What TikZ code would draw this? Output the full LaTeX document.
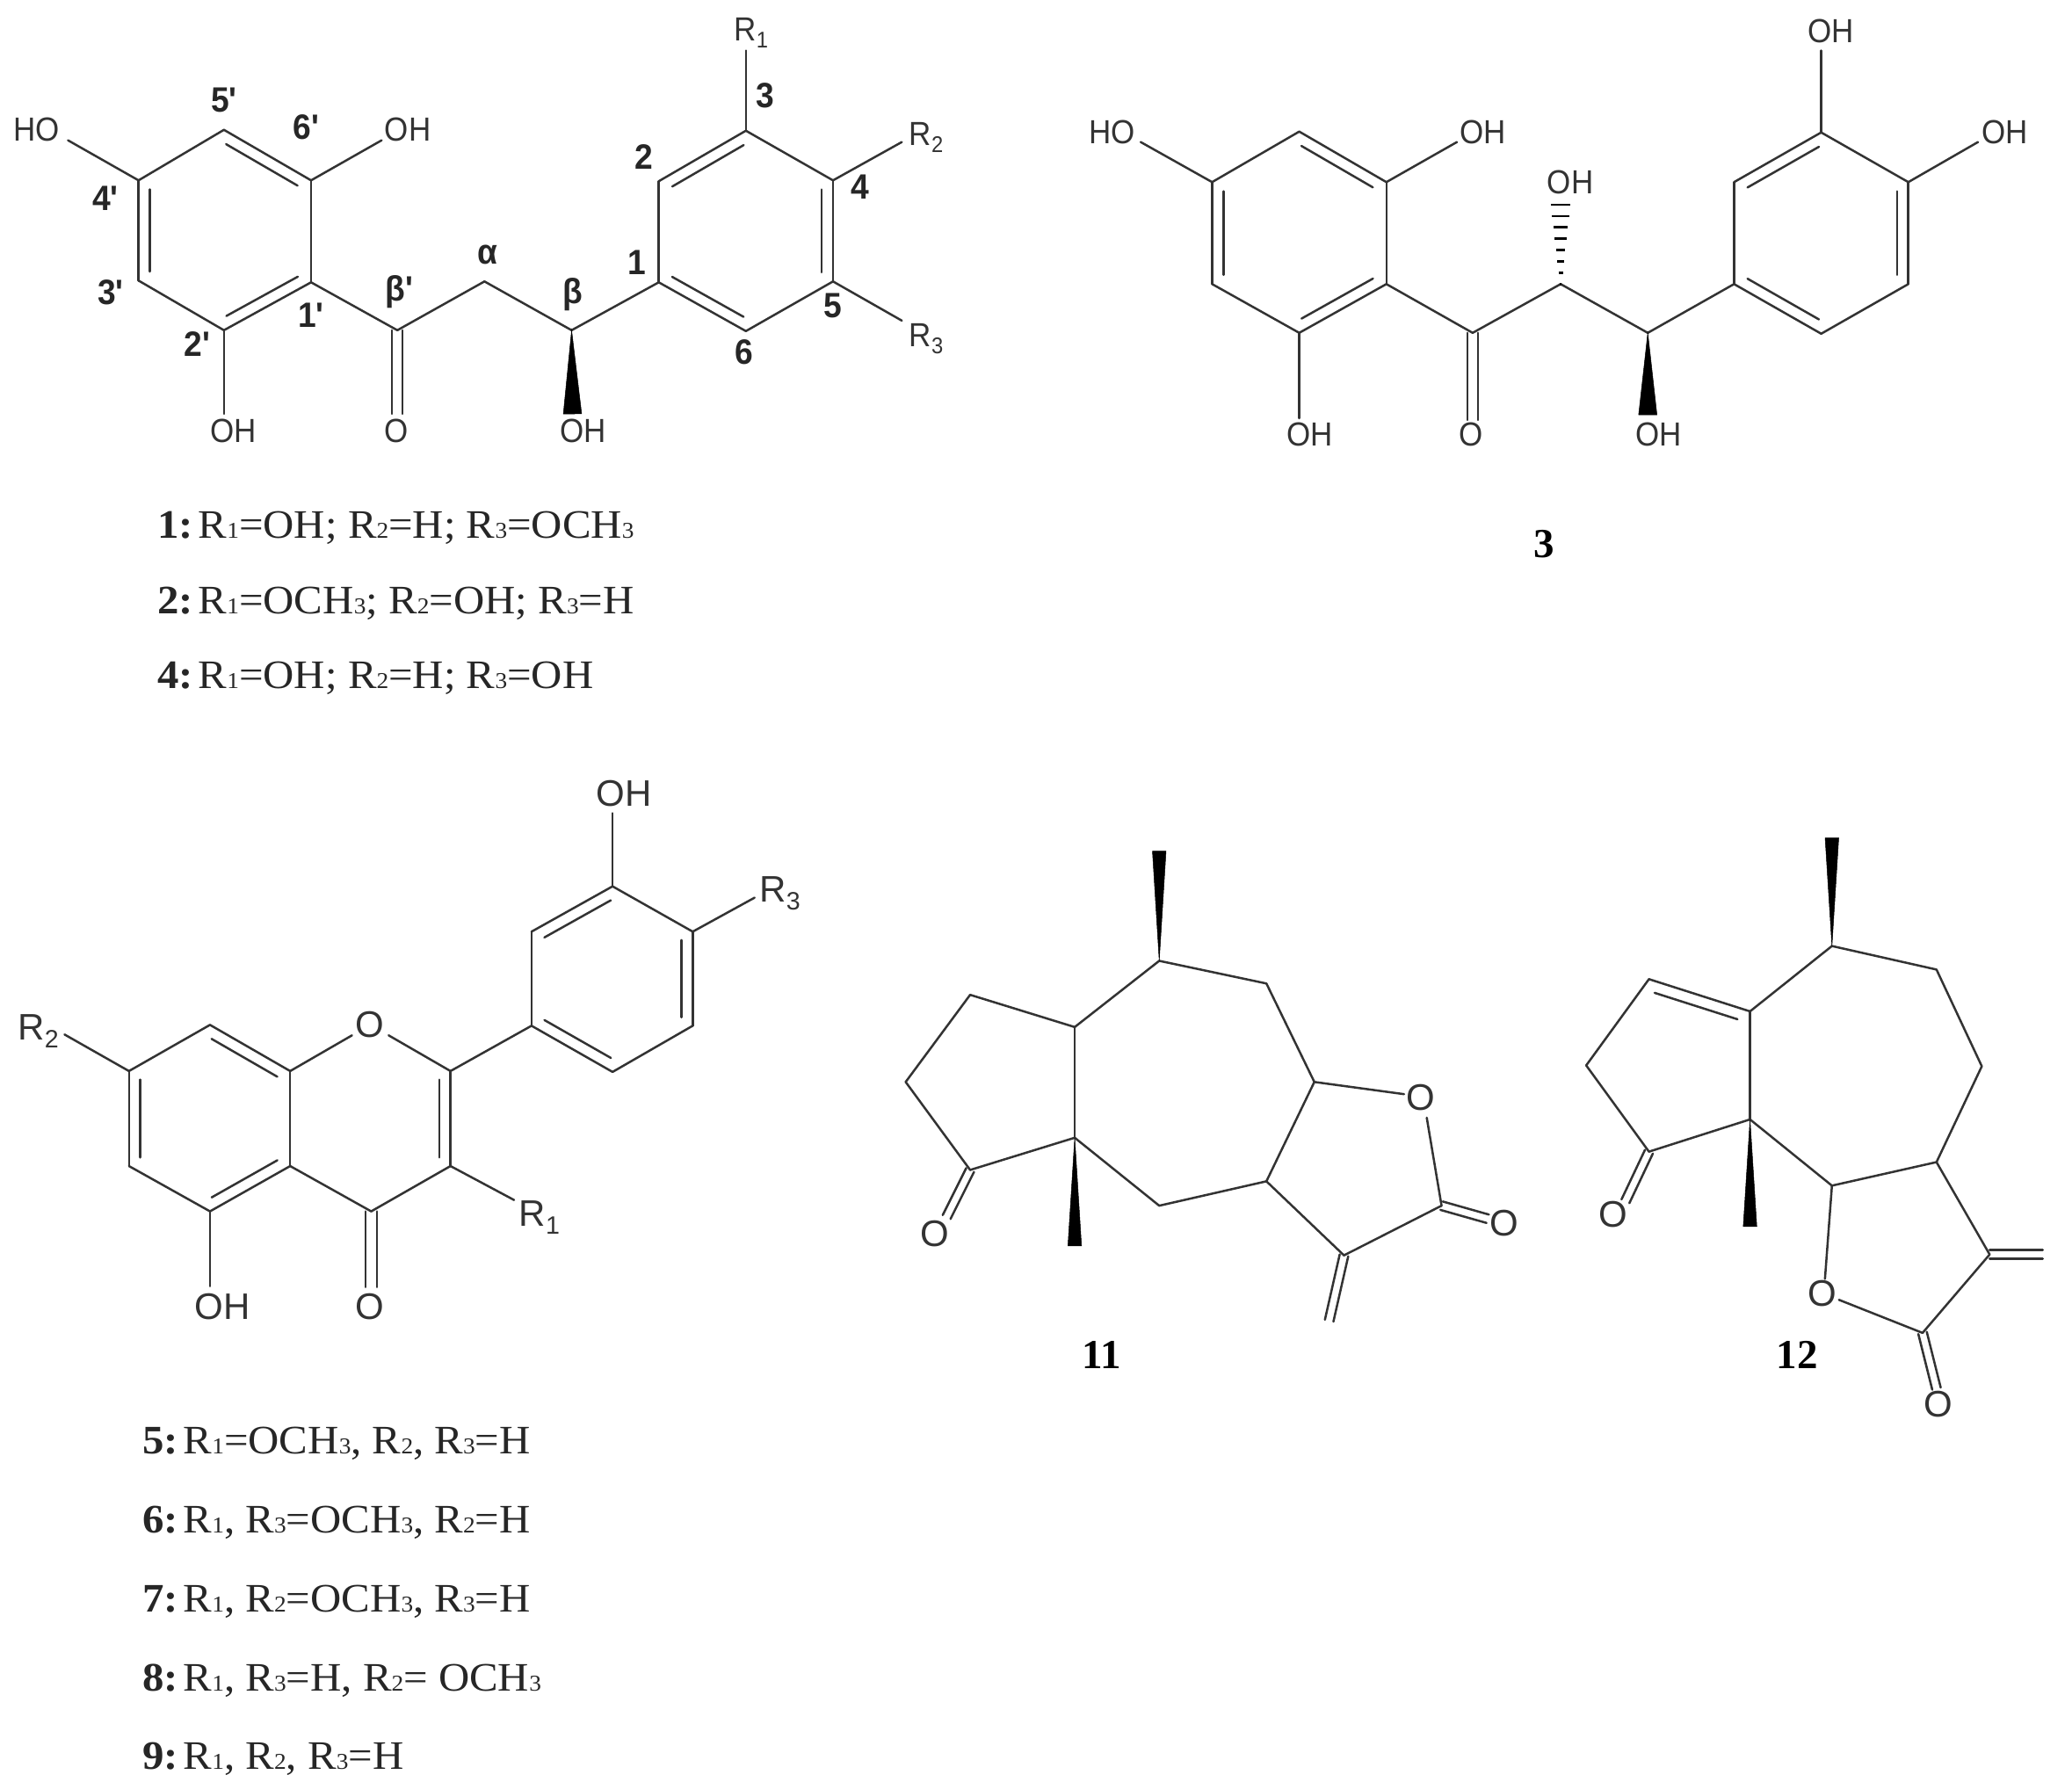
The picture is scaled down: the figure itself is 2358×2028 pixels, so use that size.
\documentclass[tikz,border=0pt]{standalone}
\usepackage{fontspec}
\usepackage{graphicx}
\usetikzlibrary{calc}
\newfontfamily\lblf[FakeStretch=.92]{Liberation Sans}
\newfontfamily\lbgf{Liberation Sans}
\newfontfamily\numf[FakeStretch=.93]{Liberation Sans}
\newfontfamily\listf[FakeStretch=1.062]{Liberation Serif}
\newfontfamily\bigf{Liberation Serif}
\definecolor{ink}{gray}{0.2}
\newcommand\Rsub[1]{\raisebox{-.22em}{\scalebox{.68}{#1}}}
\newcommand\Rl[1]{R\Rsub{#1}}
\newcommand\Lsub[1]{\raisebox{-.02em}{\scalebox{.56}{#1}}}
\newcommand\Rr[1]{R\Lsub{#1}}
\newcommand\Osub{\Lsub{3}}
\newcommand\tag[1]{\textbf{#1:}\hspace{6pt}}
\tikzset{
  bond/.style={draw=ink,line width=2.5pt,line cap=round,line join=round},
  wedgebond/.style={fill=black,draw=black,line width=.5pt},
  atomlbl/.style={inner sep=0pt,text=ink,font=\lblf\fontsize{38}{38}\selectfont},
  atombig/.style={inner sep=0pt,text=ink,font=\lbgf\fontsize{42}{42}\selectfont},
  numlbl/.style={inner sep=0pt,text=black!85,font=\numf\bfseries\fontsize{40}{40}\selectfont},
  listlbl/.style={inner sep=0pt,anchor=base west,text=black!85,font=\listf\fontsize{46}{46}\selectfont},
  cmpd/.style={inner sep=0pt,text=black,font=\bigf\bfseries\fontsize{47}{47}\selectfont},
  zoomfix/.style args={#1/#2}{shift={(#1,#2)},scale=.9917,shift={(-#1,-#2)}}
}
\newcommand\atoms[1]{\foreach \n/\x/\y in {#1}{\coordinate (\n) at (\x,\y);}}
\newcommand\bonds[1]{\foreach \a/\b in {#1}{\draw[bond] (\a) -- (\b);}}
\newcommand\inner[1]{\foreach \a/\b in {#1}{\draw[bond] ($(\a)!.09!(\b)!13pt!-90:(\b)$) -- ($(\b)!.09!(\a)!13pt!90:(\a)$);}}
\newcommand\twin[2][5pt]{\foreach \a/\b in {#2}{\draw[bond] ($(\a)!#1!90:(\b)$) -- ($(\b)!#1!-90:(\a)$);\draw[bond] ($(\a)!#1!-90:(\b)$) -- ($(\b)!#1!90:(\a)$);}}
\newcommand\wedgeb[3]{\fill[wedgebond] (#1) -- ($(#2)!#3!90:(#1)$) -- ($(#2)!#3!-90:(#1)$) -- cycle;}
\begin{document}
\begin{tikzpicture}[x=1pt,y=-1pt]
\fill[white] (0,0) rectangle (2358,2028);
\useasboundingbox (0,0) rectangle (2358,2028);

% ---------- structure 1,2,4
\begin{scope}[zoomfix=0/0]
\atoms{A5/257/149,A6/357/207,A1/357/324,A2/257/379,A3/159/322,A4/159/207,
 ACO/456/379,Aa/556/323,Ab/656/379,
 B1/756/324,B2/756/208,B3/856/150,B4/956/207,B5/956/323,B6/856/380,
 AOe/456/475,AOHe/257/475,AWe/657/475,
 BR1/856/58,BR2/1035/163,BR3/1035/368,AHOe/78/161,A6e/438/161}
\bonds{A5/A6,A6/A1,A1/A2,A2/A3,A3/A4,A4/A5,A1/ACO,ACO/Aa,Aa/Ab,Ab/B1,
 B1/B2,B2/B3,B3/B4,B4/B5,B5/B6,B6/B1,A2/AOHe,A4/AHOe,A6/A6e,B3/BR1,B4/BR2,B5/BR3}
\inner{A5/A6,A1/A2,A3/A4,B4/B5,B6/B1,B2/B3}
\twin[6pt]{ACO/AOe}
\wedgeb{Ab}{AWe}{10.5pt}
\node[atomlbl] (tHO) at (42,149) {HO};
\node[atomlbl] (tOH6) at (468,149) {OH};
\node[atomlbl] (tOH2) at (268,495) {OH};
\node[atomlbl] (tO) at (455,495) {O};
\node[atomlbl] (tOHb) at (669,495) {OH};
\node[atomlbl] (tR1) at (862,38) {\Rl{1}};
\node[atomlbl] (tR2) at (1063,158) {\Rl{2}};
\node[atomlbl] (tR3) at (1063,389) {\Rl{3}};
\foreach \nm/\x/\y/\t in {n5p/257/115/5',n6p/351/146/6',n4p/121/228/4',n3p/127/336/3',n2p/226/395/2',n1p/357/362/1',
  nbp/458/335/β',na/560/292/α,nb/657/338/β,n1/731/301/1,n2/739/180/2,n3/878/110/3,n4/987/215/4,n5/956/351/5,n6/854/404/6}
  {\node[numlbl] (\nm) at (\x,\y) {\t};}
\end{scope}

\node[listlbl] (l1) at (179,612) {\tag{1}\Rr{1}=OH; \Rr{2}=H; \Rr{3}=OCH\Osub};
\node[listlbl] (l2) at (179,698) {\tag{2}\Rr{1}=OCH\Osub; \Rr{2}=OH; \Rr{3}=H};
\node[listlbl] (l4) at (179,783) {\tag{4}\Rr{1}=OH; \Rr{2}=H; \Rr{3}=OH};

% ---------- structure 3
\begin{scope}[zoomfix=1200/0]
\atoms{C5/1481/151,C6/1581/209,C1/1581/326,C2/1481/382,C3/1381/326,C4/1381/209,
 CCO/1680/382,Ca/1781/326,Cb/1881/382,
 D1/1980/326,D2/1980/209,D3/2080/152,D4/2180/209,D5/2180/326,D6/2080/383,
 DTe/2080/58,DRe/2260/163,CHOe/1299/163,C6e/1662/163,CHe/1781/233,CWe/1881/476,COe/1680/482,C2e/1481/480}
\bonds{C5/C6,C6/C1,C1/C2,C2/C3,C3/C4,C4/C5,C1/CCO,CCO/Ca,Ca/Cb,Cb/D1,
 D1/D2,D2/D3,D3/D4,D4/D5,D5/D6,D6/D1,D3/DTe,D4/DRe,C4/CHOe,C6/C6e,C2/C2e}
\inner{C5/C6,C1/C2,C3/C4,D4/D5,D6/D1,D2/D3}
\twin[6pt]{CCO/COe}
\wedgeb{Cb}{CWe}{10.5pt}
\foreach \t in {.0,.14,...,1.0}{\draw[draw=black,line width=2.6pt] ($(Ca)!\t!(CHe)!{(1pt+10.5pt*\t)}!90:(CHe)$) -- ($(Ca)!\t!(CHe)!{(1pt+10.5pt*\t)}!-90:(CHe)$);}
\node[atomlbl] (uHO) at (1266,152) {HO};
\node[atomlbl] (uOH1) at (1692,152) {OH};
\node[atomlbl] (uOH2) at (1792,209) {OH};
\node[atomlbl] (uOH3) at (2091,36) {OH};
\node[atomlbl] (uOH4) at (2291,152) {OH};
\node[atomlbl] (uOH5) at (1493,499) {OH};
\node[atomlbl] (uO) at (1678,499) {O};
\node[atomlbl] (uOH6) at (1893,499) {OH};
\end{scope}
\node[cmpd] (c3) at (1757,619) {3};

% ---------- structures 5-9
\begin{scope}[zoomfix=0/860]
\atoms{E1/241/1169,E2/333/1222,E3/333/1331,E4/241/1383,E5/148/1331,E6/148/1222,
 F2/517/1222,F3/517/1331,F4/426/1383,EOa/404/1181,EOb/446/1181,
 G1/610/1170,G2/610/1062,G3/703/1010,G4/795/1062,G5/795/1170,G6/703/1223,
 GOHe/703/926,GR3e/866/1023,ER2e/74/1180,FR1e/590/1370,EOHe/241/1469,FOe/426/1470}
\bonds{E1/E2,E2/E3,E3/E4,E4/E5,E5/E6,E6/E1,E2/EOa,EOb/F2,F2/F3,F3/F4,F4/E3,F2/G1,
 G1/G2,G2/G3,G3/G4,G4/G5,G5/G6,G6/G1,G3/GOHe,G4/GR3e,E6/ER2e,F3/FR1e,E4/EOHe}
\inner{E1/E2,E3/E4,E5/E6,F2/F3,G4/G5,G6/G1,G2/G3}
\twin[6.5pt]{F4/FOe}
\node[atombig] (vO) at (424,1169) {O};
\node[atombig] (vOH1) at (716,903) {OH};
\node[atombig] (vR3) at (895,1018) {\Rl{3}};
\node[atombig] (vR2) at (44,1176) {\Rl{2}};
\node[atombig] (vR1) at (619,1390) {\Rl{1}};
\node[atombig] (vOH2) at (255,1492) {OH};
\node[atombig] (vO2) at (424,1492) {O};
\end{scope}
\node[listlbl] (l5) at (162,1654) {\tag{5}\Rr{1}=OCH\Osub, \Rr{2}, \Rr{3}=H};
\node[listlbl] (l6) at (162,1744) {\tag{6}\Rr{1}, \Rr{3}=OCH\Osub, \Rr{2}=H};
\node[listlbl] (l7) at (162,1834) {\tag{7}\Rr{1}, \Rr{2}=OCH\Osub, \Rr{3}=H};
\node[listlbl] (l8) at (162,1924) {\tag{8}\Rr{1}, \Rr{3}=H, \Rr{2}= OCH\Osub};
\node[listlbl] (l9) at (162,2013) {\tag{9}\Rr{1}, \Rr{2}, \Rr{3}=H};

% ---------- structure 11
\begin{scope}[zoomfix=1000/920]
\atoms{Ha/1322/969,H7/1322/1095,H6/1445/1121,H5/1500/1234,HOa/1603/1248,HOb/1629/1275,HCO/1646/1376,HOe/1699/1391,
 H3/1534/1433,H4/1445/1348,H9/1322/1376,HQ/1225/1298,HU/1225/1171,HL1/1105/1134,HL2/1031/1234,HL3/1105/1335,HKe/1078/1389,
 HMe/1225/1422,HXe/1517/1508}
\bonds{H7/H6,H6/H5,H5/HOa,HOb/HCO,HCO/H3,H3/H4,H4/H5,H4/H9,H9/HQ,HQ/HU,HU/H7,HU/HL1,HL1/HL2,HL2/HL3,HL3/HQ}
\twin{HCO/HOe,HL3/HKe,H3/HXe}
\wedgeb{H7}{Ha}{7.8pt}
\wedgeb{HQ}{HMe}{7.8pt}
\node[atombig] (wO1) at (1622,1252) {O};
\node[atombig] (wO2) at (1718,1396) {O};
\node[atombig] (wO3) at (1064,1408) {O};

% ---------- structure 12
\atoms{Ja/2094/954,J7/2094/1078,J6/2214/1105,J5/2266/1216,J4/2214/1326,J3/2094/1353,JQ/2000/1277,JU/2000/1153,
 JL1/1884/1116,JL2/1812/1215,JL3/1884/1314,JKe/1857/1371,JMe/2000/1400,JOa/2086/1460,JOb/2102/1484,JCO/2198/1522,
 JX/2275/1432,JXe/2336/1432,JOe/2214/1586}
\bonds{J7/J6,J6/J5,J5/J4,J4/J3,J3/JQ,JQ/JU,JU/J7,JU/JL1,JL2/JL1,JL2/JL3,JL3/JQ,J3/JOa,JOb/JCO,JCO/JX,JX/J4}
\inner{JL1/JU}
\twin{JL3/JKe,JX/JXe,JCO/JOe}
\wedgeb{J7}{Ja}{7.8pt}
\wedgeb{JQ}{JMe}{7.8pt}
\node[atombig] (xO1) at (1843,1386) {O};
\node[atombig] (xO2) at (2083,1477) {O};
\node[atombig] (xO3) at (2216,1604) {O};
\end{scope}
\node[cmpd] (c11) at (1254,1542) {11};
\node[cmpd] (c12) at (2045,1542) {12};
\end{tikzpicture}
\end{document}
